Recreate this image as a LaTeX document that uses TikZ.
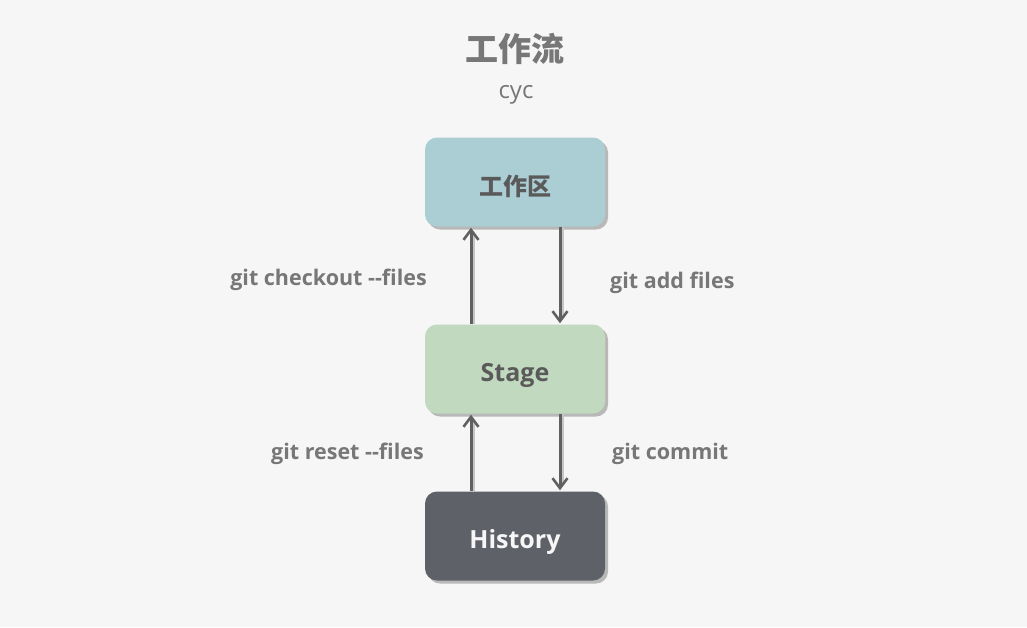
\documentclass[tikz,border=0pt]{standalone}
\usepackage{fontspec}
\setmainfont{Open Sans}
\newfontfamily\cjk{Noto Sans CJK SC}
\usetikzlibrary{arrows.meta,shadows}
\definecolor{bg}{HTML}{F6F6F6}
\definecolor{topc}{HTML}{ABCDD4}
\definecolor{midc}{HTML}{C0D9BF}
\definecolor{botc}{HTML}{5F6169}
\definecolor{txt}{HTML}{5A5A5A}
\definecolor{lbl}{HTML}{777777}
\definecolor{arr}{HTML}{606060}
\definecolor{shd}{HTML}{B8B8B8}
\begin{document}
\begin{tikzpicture}[x=1pt,y=-1pt,
  box/.style={rounded corners=12pt, minimum width=180pt, minimum height=89pt, inner sep=0pt,
    drop shadow={shadow xshift=3pt, shadow yshift=-3pt, fill=shd, opacity=1}},
  boxtxt/.style={font=\fontsize{25}{28}\selectfont\bfseries, inner sep=0pt},
  lab/.style={text=lbl, font=\fontsize{21.5}{24}\selectfont\bfseries, inner sep=0pt},
  flow/.style={draw=arr, line width=3pt, -{Straight Barb[length=10pt,width=15pt,line width=2.6pt]}},
  flowshd/.style={draw=shd!80, line width=2.6pt}]
\fill[bg] (0,0) rectangle (1027,627);
\useasboundingbox (0,0) rectangle (1027,627);
\node[text=lbl, font=\cjk\fontsize{33}{36}\selectfont\bfseries] (title) at (515,49) {工作流};
\node[text=lbl, font=\fontsize{24}{26}\selectfont] (sub) at (516,95) {cyc};
\node[box, fill=topc] (work) at (515,182) {};
\node[box, fill=midc] (stage) at (515,369) {};
\node[box, fill=botc] (hist) at (515,536) {};
\node[boxtxt, text=txt, font=\cjk\fontsize{24}{28}\selectfont\bfseries] (worktxt) at ([yshift=-4pt]work.center) {工作区};
\node[boxtxt, text=txt] (stagetxt) at ([yshift=-6pt]stage.center) {Stage};
\node[boxtxt, text=bg] (histtxt) at ([yshift=-6pt]hist.center) {History};
% shadows of connectors
\draw[flowshd] ([xshift=-41pt,yshift=-8pt]work.south) -- ([xshift=-41pt]stage.north);
\draw[flowshd] ([xshift=48pt]work.south) -- ([xshift=48pt,yshift=6pt]stage.north);
\draw[flowshd] ([xshift=-41pt,yshift=-8pt]stage.south) -- ([xshift=-41pt]hist.north);
\draw[flowshd] ([xshift=48pt]stage.south) -- ([xshift=48pt,yshift=6pt]hist.north);
% connectors
\draw[flow] ([xshift=-44pt]stage.north) -- ([xshift=-44pt,yshift=-1pt]work.south);
\draw[flow] ([xshift=45pt]work.south) -- ([xshift=45pt,yshift=1pt]stage.north);
\draw[flow] ([xshift=-44pt]hist.north) -- ([xshift=-44pt,yshift=-1pt]stage.south);
\draw[flow] ([xshift=45pt]stage.south) -- ([xshift=45pt,yshift=1pt]hist.north);
% labels
\node[lab, anchor=east] (l1) at (427,280) {git checkout -{}-files};
\node[lab, anchor=west] (l2) at (610,283) {git add files};
\node[lab, anchor=east] (l3) at (424,454) {git reset -{}-files};
\node[lab, anchor=west] (l4) at (612,454) {git commit};
\end{tikzpicture}
\end{document}
